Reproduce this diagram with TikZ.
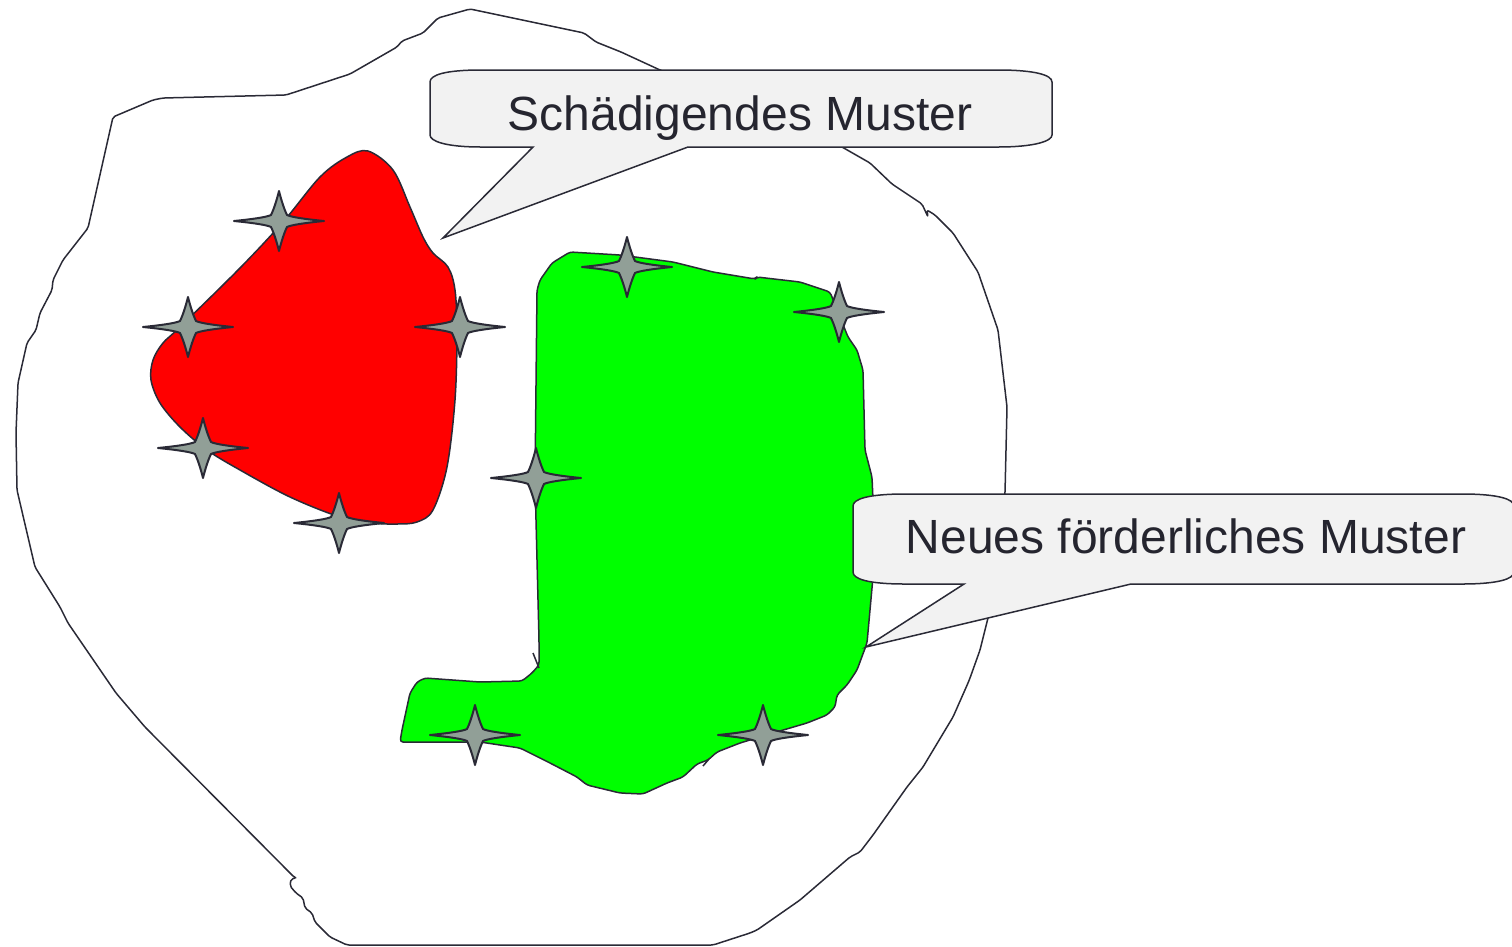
\documentclass[tikz,border=0pt]{standalone}
\usepackage{fontspec}
\setmainfont{Liberation Sans}
\definecolor{ink}{HTML}{2A2A36}
\definecolor{txt}{HTML}{25252F}
\definecolor{sparkfill}{HTML}{919F97}
\definecolor{calloutfill}{HTML}{F2F2F2}
\definecolor{redblob}{HTML}{FF0000}
\definecolor{greenblob}{HTML}{00FF00}
\tikzset{
  outline/.style={draw=ink, line width=1.5pt, line join=round, rounded corners=2pt},
  blob/.style={draw=ink, line width=1.5pt, line join=round},
  sparkstyle/.style={draw=ink, fill=sparkfill, line width=2pt, line join=round},
  callout/.style={draw=ink, fill=calloutfill, line width=1.5pt, line join=miter},
  lbl/.style={text=txt, font=\fontsize{48}{56}\selectfont, inner sep=0pt, anchor=base},
  spark/.pic={\path[sparkstyle] (-45,0) .. controls (-25,-2) and (-12,-4) .. (-8,-6)
     .. controls (-5,-12) and (-2,-22) .. (0,-30) .. controls (2,-22) and (5,-12) .. (8,-6)
     .. controls (12,-4) and (25,-2) .. (45,0) .. controls (25,2) and (12,4) .. (8,6)
     .. controls (5,12) and (2,22) .. (0,30) .. controls (-2,22) and (-5,12) .. (-8,6)
     .. controls (-12,4) and (-25,2) .. (-45,0) -- cycle;}
}
\begin{document}
\begin{tikzpicture}[x=1pt,y=-1pt]
\useasboundingbox (0,0) rectangle (1512,946);
% outer boundary
\path[outline] (470,9) -- (584,33) -- (596,42) -- (621,52) -- (660,70) -- (760,108) -- (842,147)
  -- (870,163) -- (892,184) -- (922,204) -- (928,217) -- (927,210) -- (935,215) -- (953,233)
  -- (978,272) -- (998,330) -- (1007,407) -- (1005,493) -- (995,580) -- (988,618) -- (980,650)
  -- (970,678) -- (968,683) -- (953,717) -- (923,767) -- (907,787) -- (873,835) -- (860,852)
  -- (850,857) -- (800,900) -- (757,930) -- (750,933) -- (713,945) -- (347,945) -- (330,937)
  -- (315,922) -- (312,913) -- (305,908) -- (303,898) -- (296,893) -- (290,886) -- (291,879)
  -- (296,878) -- (294,877) -- (145,727) -- (116,693) -- (68,623) -- (60,607) -- (35,567)
  -- (17,490) -- (16,433) -- (18,383) -- (27,343) -- (36,330) -- (40,313) -- (52,290) -- (53,280)
  -- (63,260) -- (88,228) -- (113,117) -- (153,100) -- (163,98) -- (286,95) -- (350,74)
  -- (397,47) -- (402,41) -- (423,33) -- (438,18) -- cycle;
% red blob
\path[blob, fill=redblob] plot[smooth cycle, tension=0.55] coordinates {
  (368,151) (393,170) (410,207) (423,237) (433,253) (448,267) (455,290) (457,333) (455,400)
  (447,467) (433,510) (417,522) (397,524) (373,523) (340,517) (290,497) (240,470) (207,450)
  (180,427) (160,403) (151,380) (153,360) (163,343) (180,327) (240,268) (283,222) (320,177) (347,157)};
% green blob
\path[blob, fill=greenblob, rounded corners=3pt] (570,252) -- (620,255) -- (673,262) -- (713,272)
  -- (755,279) -- (757,277) -- (800,282) -- (830,292) -- (848,337) -- (857,350) -- (863,370)
  -- (865,450) -- (872,477) -- (873,500) -- (873,577) -- (870,610) -- (867,643) -- (857,670)
  -- (847,685) -- (837,695) -- (835,707) -- (827,715) -- (807,723) -- (773,733) -- (740,743)
  -- (717,752) -- (708,760) -- (697,764) -- (683,777) -- (667,783) -- (643,794) -- (620,793)
  -- (587,785) -- (577,777) -- (550,763) -- (520,748) -- (480,742) -- (400,742) -- (402,730)
  -- (410,693) -- (417,682) -- (425,678) -- (480,682) -- (522,681) -- (532,673) -- (539,665)
  -- (539,640) -- (535,480) -- (537,290) -- (540,280) -- (552,263) -- cycle;
\draw[blob] (533,653) -- (539,668);
\draw[blob] (703,766) -- (709,759);
% stars
\foreach \p in {(279,221),(188,327),(460,327),(203,448),(339,523),(627,267),(839,312),(536,478),(475,735),(763,735)}
  \pic at \p {spark};
% callout 1
\path[callout] (481,70) -- (998,70) .. controls (1035,70) and (1052,75) .. (1052,82) -- (1052,135)
  .. controls (1052,141) and (1035,147) .. (998,147) -- (688,147) -- (443,238) -- (533,147) -- (481,147)
  .. controls (445,147) and (430,141) .. (430,135) -- (430,82) .. controls (430,75) and (445,70) .. (481,70) -- cycle;
\node[lbl] (t1) at (740,130) {Schädigendes Muster};
% callout 2
\path[callout] (905,494) -- (1462,494) .. controls (1498,494) and (1514,499) .. (1514,506) -- (1514,572)
  .. controls (1514,579) and (1498,584) .. (1462,584) -- (1131,584) -- (866,647) -- (964,584) -- (905,584)
  .. controls (868,584) and (853,579) .. (853,572) -- (853,506) .. controls (853,499) and (868,494) .. (905,494) -- cycle;
\node[lbl] (t2) at (1186,553) {Neues förderliches Muster};
\end{tikzpicture}
\end{document}
